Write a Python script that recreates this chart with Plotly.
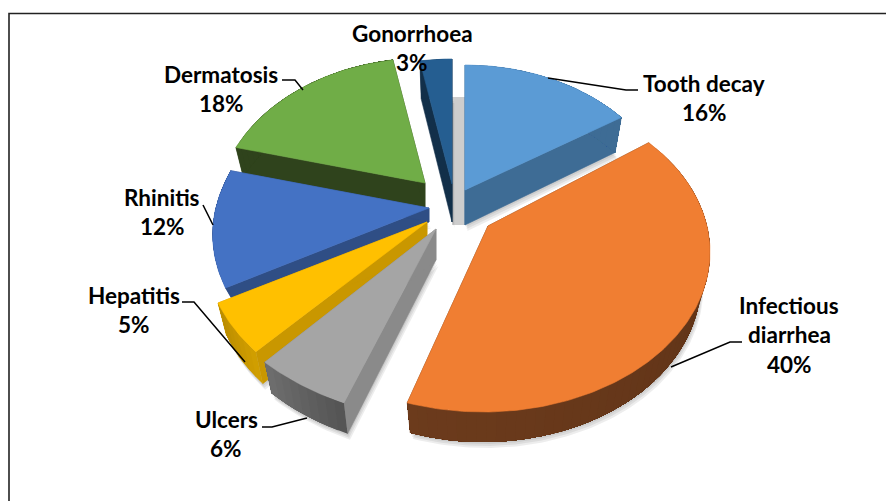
import math
import plotly.graph_objects as go

# ---- data ----
categories = ["Tooth decay", "Infectious diarrhea", "Ulcers", "Hepatitis", "Rhinitis", "Dermatosis", "Gonorrhoea"]
values = [16, 40, 6, 5, 12, 18, 3]

# ---- style / projection (separate from the data) ----
top_colors = ["#5b9bd5", "#f07e32", "#a5a5a5", "#ffc000", "#4472c4", "#70ad47", "#255e91"]
side_colors = ["#3e6c95", "#6a3a1b", "#8a8a8a", "#c99700", "#2f4e85", "#2f431c", "#122f49"]
wall_from = ["#3e6c95", "#6c3b1c", "#707070", "#b88a00", "#2f4e85", "#2f431c", "#122f49"]
wall_to = ["#3e6c95", "#5c3116", "#555555", "#d09e00", "#2f4e85", "#2f431c", "#122f49"]
apex_x = [465, 488, 436, 427, 429, 425, 452]
apex_y = [190, 226, 229, 222, 208, 183, 184]
# per-slice stretch and perspective: horizontal/vertical, behind/in front of the apex
stretch_x = [1.0, 1.083, 1.22, 1.068, 1.04, 1.0, 1.0]
stretch_y = [1.0, 1.05, 1.13, 1.013, 1.0, 1.0, 1.0]
persp_x_back = [0.2, 0.3, 0.2, 0.2, 0.17, 0.2, 0.2]
persp_x_front = [0.2, 0.0, 0.0, 0.17, 0.17, 0.2, 0.2]
persp_y_back = [0.2, 0.0, 0.2, 0.2, 0.0, 0.2, 0.2]
persp_y_front = [0.2, 0.2, 0.1, 0.2, 0.2, 0.2, 0.2]
depth = [35, 30, 31, 32, 14, 30, 38]
draw_order = [6, 5, 4, 3, 0, 2, 1]
RX, RY, BOTTOM = 205, 150, 0.96
# the big front slice sits on its own ellipse, not centred on its apex
BIG = dict(index=1, cx=483, cy=252, a=227, b=160, shift=-10.7, gain=0.0597)


def point(i, frac, lower=False):
    t = 2 * math.pi * frac
    sx = BOTTOM if lower else 1.0
    if i == BIG["index"]:
        deg = 360 * frac
        p = math.radians(deg + BIG["shift"] + (deg - 360 * starts[i]) * BIG["gain"])
        return (BIG["cx"] + BIG["a"] * math.sin(p) * sx,
                BIG["cy"] - BIG["b"] * math.cos(p) + (depth[i] if lower else 0))
    u, v = math.sin(t), math.cos(t)
    px = persp_x_back[i] if v > 0 else persp_x_front[i]
    py = persp_y_back[i] if v > 0 else persp_y_front[i]
    return (apex_x[i] + RX * stretch_x[i] * u / (1 + px * v) * sx,
            apex_y[i] - RY * stretch_y[i] * v / (1 + py * v) + (depth[i] if lower else 0))


def mix(a, b, k):
    ca = [int(a[j:j + 2], 16) for j in (1, 3, 5)]
    cb = [int(b[j:j + 2], 16) for j in (1, 3, 5)]
    return "#%02x%02x%02x" % tuple(round(p + (q - p) * k) for p, q in zip(ca, cb))


def poly(pts, color, name, width=0.6):
    return go.Scatter(x=[p[0] for p in pts] + [pts[0][0]], y=[p[1] for p in pts] + [pts[0][1]],
                      mode="lines", fill="toself", fillcolor=color,
                      line=dict(color=color, width=width), name=name, showlegend=False,
                      hoverinfo="text", text=name)


total = sum(values)
starts, c = [], 0
for val in values:
    starts.append(c / total)
    c += val

fig = go.Figure()

# soft drop shadows, underneath every slice
for i in draw_order:
    a, b = starts[i], starts[i] + values[i] / total
    m = max(8, values[i] * 4)
    low = [point(i, a + (b - a) * k / m, True) for k in range(m + 1)]
    apex_b = (apex_x[i], apex_y[i] + depth[i])
    for off in (6, 4, 2):
        fig.add_trace(poly([(x + off * 0.4, y + off) for x, y in [apex_b] + low],
                           "rgba(0,0,0,0.07)", "shadow", width=0))

for i in draw_order:
    a, b = starts[i], starts[i] + values[i] / total
    label = f"{categories[i]}: {values[i]}%"
    n = max(3, int(values[i] * 1.5))
    fr = [a + (b - a) * k / n for k in range(n + 1)]
    apex_t = (apex_x[i], apex_y[i])
    apex_b = (apex_x[i], apex_y[i] + depth[i])
    # cut faces
    fig.add_trace(poly([apex_t, point(i, a), point(i, a, True), apex_b], side_colors[i], label))
    fig.add_trace(poly([apex_t, point(i, b), point(i, b, True), apex_b], side_colors[i], label))
    # curved wall: nested strips, each one reaching the slice's far end, so no seams show
    for k in range(n):
        col = mix(wall_from[i], wall_to[i], 1 - k / n)
        upper = [point(i, f) for f in fr[k:]]
        lower = [point(i, f, True) for f in reversed(fr[k:])]
        fig.add_trace(poly(upper + lower, col, label, width=0))
    # top face
    m = max(8, values[i] * 4)
    arc = [point(i, a + (b - a) * k / m) for k in range(m + 1)]
    fig.add_trace(poly([apex_t] + arc, top_colors[i], label))

# leader lines
leaders = [
    [(548, 78), (626, 90), (638, 90)],
    [(742, 342), (730, 342), (671, 367)],
    [(262, 427), (272, 427), (307, 418)],
    [(182, 302), (194, 302), (245, 362)],
    [(203, 205), (213, 225)],
    [(282, 80), (295, 80), (303, 90)],
]
shapes = [
    dict(type="rect", x0=9, y0=13.5, x1=900, y1=520, line=dict(color="#222222", width=1.6), layer="below"),
    dict(type="rect", x0=452, y0=97, x1=465, y1=225, fillcolor="#cdcdcd", line=dict(width=0), layer="below"),
]
for pts in leaders:
    path = "M" + " L".join(f"{x},{y}" for x, y in pts)
    shapes.append(dict(type="path", path=path, line=dict(color="black", width=1.5), layer="above"))

# labels
label_lines = [["Tooth decay"], ["Infectious", "diarrhea"], ["Ulcers"], ["Hepatitis"], ["Rhinitis"], ["Dermatosis"], ["Gonorrhoea"]]
label_x = [704, 789, 226, 134, 162, 221, 412]
label_y = [83, 305, 419, 295, 197, 74, 33]
LINE = 29.5
annotations = []
for i, lines in enumerate(label_lines):
    rows = lines + [f"{values[i]}%"]
    for r, row in enumerate(rows):
        annotations.append(dict(x=label_x[i], y=label_y[i] + r * LINE, text=f"<b>{row}</b>", showarrow=False,
                                xanchor="center", yanchor="middle",
                                font=dict(family="Lato", size=22.5, color="black")))

fig.update_layout(
    width=886, height=501, margin=dict(l=0, r=0, t=0, b=0),
    paper_bgcolor="white", plot_bgcolor="white", showlegend=False,
    xaxis=dict(range=[0, 886], visible=False, fixedrange=True),
    yaxis=dict(range=[501, 0], visible=False, fixedrange=True),
    shapes=shapes, annotations=annotations,
)
fig.write_html("out.html", config=dict(displayModeBar=False),
               post_script="document.body.style.margin='0';document.documentElement.style.overflow='hidden';")
